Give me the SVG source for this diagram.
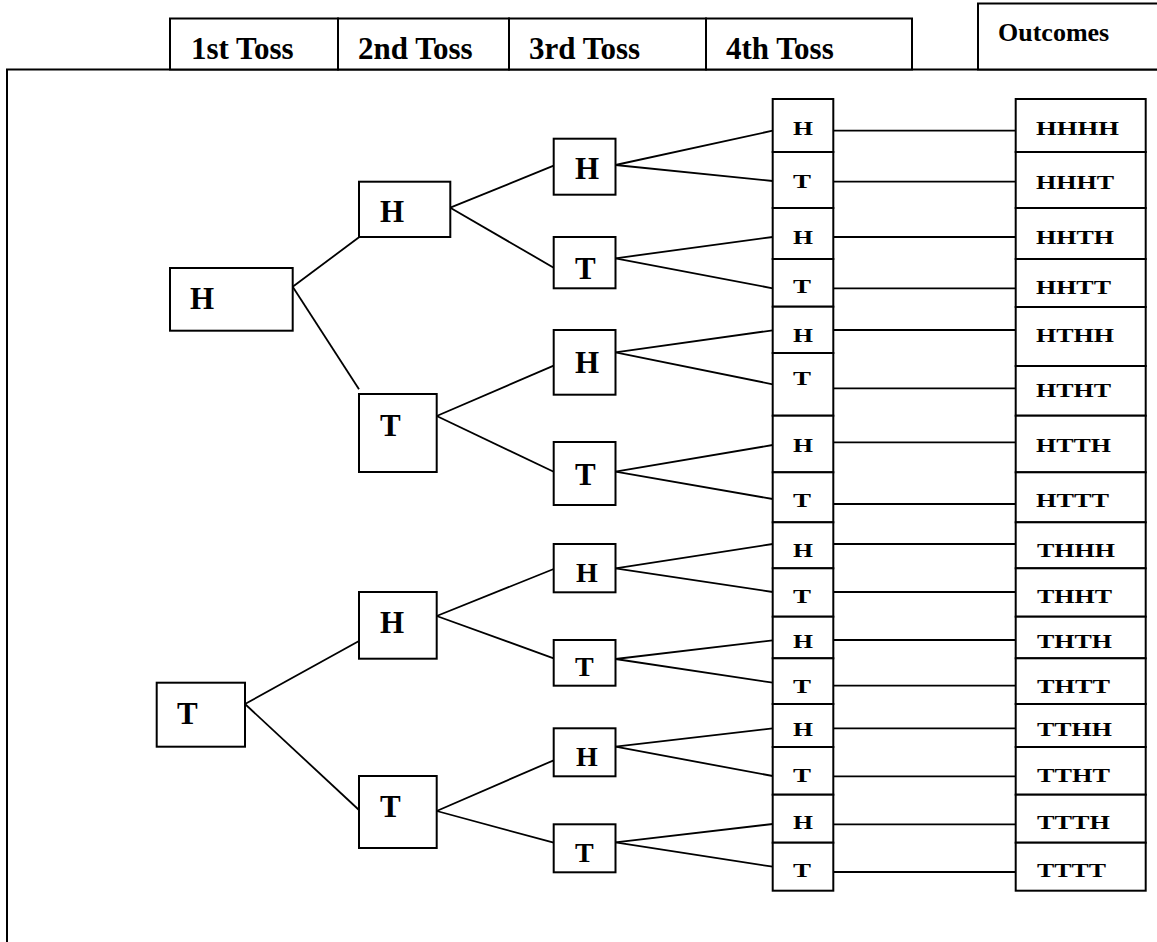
<svg xmlns="http://www.w3.org/2000/svg" width="1157" height="942" viewBox="0 0 1157 942">
<style>
.bx{fill:#fff;stroke:#000;stroke-width:2}
.fr{fill:none;stroke:#000;stroke-width:2}
.ln{fill:none;stroke:#000;stroke-width:1.8}
text{font-family:"Liberation Serif","Times New Roman",serif;font-weight:bold;fill:#000}
.hd{font-size:31px}
.big{font-size:31px}
.mid{font-size:28px}
.sm{font-size:19px}
</style>
<rect width="1157" height="942" fill="#fff"/>
<g id="frame">
<polyline class="fr" points="7,942 7,69.5 1160,69.5"/>
</g>
<g id="header">
<rect class="bx" x="170" y="18.5" width="168" height="51"/>
<rect class="bx" x="338" y="18.5" width="171" height="51"/>
<rect class="bx" x="509" y="18.5" width="197" height="51"/>
<rect class="bx" x="706" y="18.5" width="206" height="51"/>
<rect class="bx" x="978" y="3.5" width="185" height="66"/>
<text class="hd" x="191" y="59">1st Toss</text>
<text class="hd" x="358" y="59">2nd Toss</text>
<text class="hd" x="529" y="59">3rd Toss</text>
<text class="hd" x="726" y="59">4th Toss</text>
<text x="998" y="41" font-size="26">Outcomes</text>
</g>
<g id="connectors">
<line class="ln" x1="292.7" y1="286.7" x2="359" y2="237.3"/>
<line class="ln" x1="292.7" y1="286.7" x2="359" y2="389.3"/>
<line class="ln" x1="245" y1="704" x2="359" y2="641"/>
<line class="ln" x1="245" y1="704" x2="359" y2="810"/>
<line class="ln" x1="450.3" y1="207.7" x2="553.7" y2="165.7"/>
<line class="ln" x1="450.3" y1="207.7" x2="553.7" y2="267.7"/>
<line class="ln" x1="436.7" y1="416" x2="553.7" y2="365.7"/>
<line class="ln" x1="436.7" y1="416" x2="553.7" y2="471.7"/>
<line class="ln" x1="436.7" y1="616" x2="553.7" y2="569"/>
<line class="ln" x1="436.7" y1="616" x2="553.7" y2="658.3"/>
<line class="ln" x1="436.7" y1="811" x2="553.7" y2="760.3"/>
<line class="ln" x1="436.7" y1="811" x2="553.7" y2="842.7"/>
<line class="ln" x1="615.5" y1="165" x2="772.7" y2="130.7"/>
<line class="ln" x1="615.5" y1="165" x2="772.7" y2="181"/>
<line class="ln" x1="615.5" y1="258.3" x2="772.7" y2="237"/>
<line class="ln" x1="615.5" y1="258.3" x2="772.7" y2="288.3"/>
<line class="ln" x1="615.5" y1="352.3" x2="772.7" y2="330.3"/>
<line class="ln" x1="615.5" y1="352.3" x2="772.7" y2="384.3"/>
<line class="ln" x1="615.5" y1="471.7" x2="772.7" y2="445"/>
<line class="ln" x1="615.5" y1="471.7" x2="772.7" y2="499"/>
<line class="ln" x1="615.5" y1="568.3" x2="772.7" y2="544"/>
<line class="ln" x1="615.5" y1="568.3" x2="772.7" y2="592"/>
<line class="ln" x1="615.5" y1="659" x2="772.7" y2="640.3"/>
<line class="ln" x1="615.5" y1="659" x2="772.7" y2="682.7"/>
<line class="ln" x1="615.5" y1="746.7" x2="772.7" y2="728.3"/>
<line class="ln" x1="615.5" y1="746.7" x2="772.7" y2="776"/>
<line class="ln" x1="615.5" y1="842.3" x2="772.7" y2="824"/>
<line class="ln" x1="615.5" y1="842.3" x2="772.7" y2="866.7"/>
<line class="ln" x1="833.3" y1="130.7" x2="1015.7" y2="130.7"/>
<line class="ln" x1="833.3" y1="181.7" x2="1015.7" y2="181.7"/>
<line class="ln" x1="833.3" y1="237" x2="1015.7" y2="237"/>
<line class="ln" x1="833.3" y1="288.3" x2="1015.7" y2="288.3"/>
<line class="ln" x1="833.3" y1="330" x2="1015.7" y2="330"/>
<line class="ln" x1="833.3" y1="388.3" x2="1015.7" y2="388.3"/>
<line class="ln" x1="833.3" y1="442.3" x2="1015.7" y2="442.3"/>
<line class="ln" x1="833.3" y1="504" x2="1015.7" y2="504"/>
<line class="ln" x1="833.3" y1="544" x2="1015.7" y2="544"/>
<line class="ln" x1="833.3" y1="592" x2="1015.7" y2="592"/>
<line class="ln" x1="833.3" y1="640" x2="1015.7" y2="640"/>
<line class="ln" x1="833.3" y1="685.7" x2="1015.7" y2="685.7"/>
<line class="ln" x1="833.3" y1="728.3" x2="1015.7" y2="728.3"/>
<line class="ln" x1="833.3" y1="776.3" x2="1015.7" y2="776.3"/>
<line class="ln" x1="833.3" y1="824.3" x2="1015.7" y2="824.3"/>
<line class="ln" x1="833.3" y1="872" x2="1015.7" y2="872"/>
</g>
<g id="n1-H"><rect class="bx" x="170" y="268" width="122.7" height="62.7"/><text class="big" x="190" y="309">H</text></g>
<g id="n1-T"><rect class="bx" x="156.7" y="682.7" width="88.3" height="64"/><text class="big" x="177" y="724">T</text></g>
<g id="n2-H"><rect class="bx" x="359" y="181.7" width="91.3" height="55.3"/><text class="big" x="380" y="222">H</text></g>
<g id="n2-T"><rect class="bx" x="359" y="394" width="77.7" height="78"/><text class="big" x="380" y="436">T</text></g>
<g id="n2-H2"><rect class="bx" x="359" y="592" width="77.7" height="66.7"/><text class="big" x="380" y="633">H</text></g>
<g id="n2-T2"><rect class="bx" x="359" y="776" width="77.7" height="72"/><text class="big" x="380" y="817">T</text></g>
<g id="n3-HH"><rect class="bx" x="553.7" y="138.7" width="61.8" height="56"/><text class="big" x="575" y="179">H</text></g>
<g id="n3-HT"><rect class="bx" x="553.7" y="237" width="61.8" height="51.3"/><text class="big" x="575" y="278.5">T</text></g>
<g id="n3-TH"><rect class="bx" x="553.7" y="330" width="61.8" height="64.7"/><text class="big" x="575" y="372.5">H</text></g>
<g id="n3-TT"><rect class="bx" x="553.7" y="442" width="61.8" height="63"/><text class="big" x="575" y="485">T</text></g>
<g id="n3-HH2"><rect class="bx" x="553.7" y="544" width="61.8" height="48.3"/><text class="mid" x="576" y="582">H</text></g>
<g id="n3-HT2"><rect class="bx" x="553.7" y="640" width="61.8" height="45.7"/><text class="mid" x="575" y="675.5">T</text></g>
<g id="n3-TH2"><rect class="bx" x="553.7" y="728.3" width="61.8" height="48"/><text class="mid" x="576" y="766">H</text></g>
<g id="n3-TT2"><rect class="bx" x="553.7" y="824.3" width="61.8" height="48"/><text class="mid" x="575" y="861.5">T</text></g>
<g id="n4-1"><rect class="bx" x="772.7" y="99" width="60.6" height="53"/><text class="sm" x="793" y="135" textLength="20" lengthAdjust="spacingAndGlyphs">H</text></g>
<g id="n4-2"><rect class="bx" x="772.7" y="152" width="60.6" height="56"/><text class="sm" x="793" y="188" textLength="18" lengthAdjust="spacingAndGlyphs">T</text></g>
<g id="n4-3"><rect class="bx" x="772.7" y="208" width="60.6" height="51"/><text class="sm" x="793" y="244" textLength="20" lengthAdjust="spacingAndGlyphs">H</text></g>
<g id="n4-4"><rect class="bx" x="772.7" y="259" width="60.6" height="47.7"/><text class="sm" x="793" y="293" textLength="18" lengthAdjust="spacingAndGlyphs">T</text></g>
<g id="n4-5"><rect class="bx" x="772.7" y="306.7" width="60.6" height="46.3"/><text class="sm" x="793" y="342" textLength="20" lengthAdjust="spacingAndGlyphs">H</text></g>
<g id="n4-6"><rect class="bx" x="772.7" y="353" width="60.6" height="62.7"/><text class="sm" x="793" y="385" textLength="18" lengthAdjust="spacingAndGlyphs">T</text></g>
<g id="n4-7"><rect class="bx" x="772.7" y="415.7" width="60.6" height="56.6"/><text class="sm" x="793" y="452" textLength="20" lengthAdjust="spacingAndGlyphs">H</text></g>
<g id="n4-8"><rect class="bx" x="772.7" y="472.3" width="60.6" height="50"/><text class="sm" x="793" y="507" textLength="18" lengthAdjust="spacingAndGlyphs">T</text></g>
<g id="n4-9"><rect class="bx" x="772.7" y="522.3" width="60.6" height="46"/><text class="sm" x="793" y="557" textLength="20" lengthAdjust="spacingAndGlyphs">H</text></g>
<g id="n4-10"><rect class="bx" x="772.7" y="568.3" width="60.6" height="48.4"/><text class="sm" x="793" y="603" textLength="18" lengthAdjust="spacingAndGlyphs">T</text></g>
<g id="n4-11"><rect class="bx" x="772.7" y="616.7" width="60.6" height="41.6"/><text class="sm" x="793" y="648" textLength="20" lengthAdjust="spacingAndGlyphs">H</text></g>
<g id="n4-12"><rect class="bx" x="772.7" y="658.3" width="60.6" height="45.7"/><text class="sm" x="793" y="693" textLength="18" lengthAdjust="spacingAndGlyphs">T</text></g>
<g id="n4-13"><rect class="bx" x="772.7" y="704" width="60.6" height="43"/><text class="sm" x="793" y="736" textLength="20" lengthAdjust="spacingAndGlyphs">H</text></g>
<g id="n4-14"><rect class="bx" x="772.7" y="747" width="60.6" height="47.7"/><text class="sm" x="793" y="782" textLength="18" lengthAdjust="spacingAndGlyphs">T</text></g>
<g id="n4-15"><rect class="bx" x="772.7" y="794.7" width="60.6" height="48"/><text class="sm" x="793" y="829" textLength="20" lengthAdjust="spacingAndGlyphs">H</text></g>
<g id="n4-16"><rect class="bx" x="772.7" y="842.7" width="60.6" height="48"/><text class="sm" x="793" y="877" textLength="18" lengthAdjust="spacingAndGlyphs">T</text></g>
<g id="o1"><rect class="bx" x="1015.7" y="99" width="130" height="53"/><text class="sm" x="1036" y="135" textLength="83" lengthAdjust="spacingAndGlyphs">HHHH</text></g>
<g id="o2"><rect class="bx" x="1015.7" y="152" width="130" height="56"/><text class="sm" x="1036" y="189" textLength="78" lengthAdjust="spacingAndGlyphs">HHHT</text></g>
<g id="o3"><rect class="bx" x="1015.7" y="208" width="130" height="51"/><text class="sm" x="1036" y="244" textLength="78" lengthAdjust="spacingAndGlyphs">HHTH</text></g>
<g id="o4"><rect class="bx" x="1015.7" y="259" width="130" height="48"/><text class="sm" x="1036" y="294" textLength="75" lengthAdjust="spacingAndGlyphs">HHTT</text></g>
<g id="o5"><rect class="bx" x="1015.7" y="307" width="130" height="59"/><text class="sm" x="1036" y="342" textLength="78" lengthAdjust="spacingAndGlyphs">HTHH</text></g>
<g id="o6"><rect class="bx" x="1015.7" y="366" width="130" height="49.7"/><text class="sm" x="1036" y="397" textLength="75" lengthAdjust="spacingAndGlyphs">HTHT</text></g>
<g id="o7"><rect class="bx" x="1015.7" y="415.7" width="130" height="56.6"/><text class="sm" x="1036" y="452" textLength="75" lengthAdjust="spacingAndGlyphs">HTTH</text></g>
<g id="o8"><rect class="bx" x="1015.7" y="472.3" width="130" height="50"/><text class="sm" x="1036" y="507" textLength="73" lengthAdjust="spacingAndGlyphs">HTTT</text></g>
<g id="o9"><rect class="bx" x="1015.7" y="522.3" width="130" height="46"/><text class="sm" x="1037" y="557" textLength="78" lengthAdjust="spacingAndGlyphs">THHH</text></g>
<g id="o10"><rect class="bx" x="1015.7" y="568.3" width="130" height="48.4"/><text class="sm" x="1037" y="603" textLength="75" lengthAdjust="spacingAndGlyphs">THHT</text></g>
<g id="o11"><rect class="bx" x="1015.7" y="616.7" width="130" height="41.6"/><text class="sm" x="1037" y="648" textLength="75" lengthAdjust="spacingAndGlyphs">THTH</text></g>
<g id="o12"><rect class="bx" x="1015.7" y="658.3" width="130" height="45.7"/><text class="sm" x="1037" y="693" textLength="73" lengthAdjust="spacingAndGlyphs">THTT</text></g>
<g id="o13"><rect class="bx" x="1015.7" y="704" width="130" height="43"/><text class="sm" x="1037" y="736" textLength="75" lengthAdjust="spacingAndGlyphs">TTHH</text></g>
<g id="o14"><rect class="bx" x="1015.7" y="747" width="130" height="47.7"/><text class="sm" x="1037" y="782" textLength="73" lengthAdjust="spacingAndGlyphs">TTHT</text></g>
<g id="o15"><rect class="bx" x="1015.7" y="794.7" width="130" height="48"/><text class="sm" x="1037" y="829" textLength="73" lengthAdjust="spacingAndGlyphs">TTTH</text></g>
<g id="o16"><rect class="bx" x="1015.7" y="842.7" width="130" height="48"/><text class="sm" x="1037" y="877" textLength="69" lengthAdjust="spacingAndGlyphs">TTTT</text></g>
</svg>
